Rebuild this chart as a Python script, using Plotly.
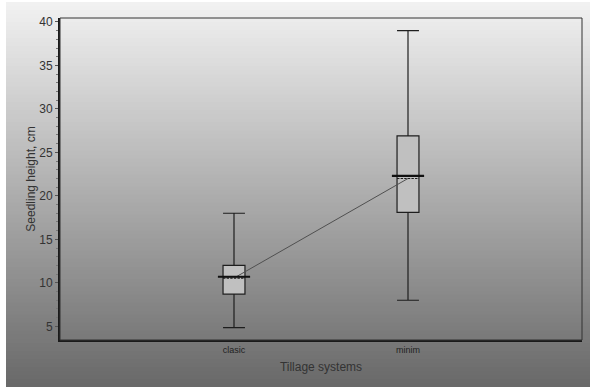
import plotly.graph_objects as go

categories = ["clasic", "minim"]
lower_whisker = [4.85, 8.0]
q1 = [8.7, 18.1]
median = [10.7, 22.3]
mean = [10.55, 22.0]
q3 = [12.0, 26.9]
upper_whisker = [18.0, 39.0]

W, H = 590, 387
ml, mr, mt, mb = 60, 8, 18, 47
pw = W - ml - mr
ph = H - mt - mb
bg_left, bg_top = 6, 2  # light strip before the gradient starts

fig = go.Figure()

# gradient background as overlapping thin rectangles
n = 96
top = (242, 242, 242)
bot = (104, 104, 104)
span = H - bg_top
for i in range(n):
    y0px = bg_top + i * span / n
    y1px = min(H, bg_top + (i + 1) * span / n + 2)
    t = (i + 0.5) / n
    c = tuple(int(round(top[k] + (bot[k] - top[k]) * t)) for k in range(3))
    fig.add_shape(type="rect", xref="paper", yref="paper",
                  x0=-(ml - bg_left) / pw, x1=1 + mr / pw,
                  y0=1 + (mt - y1px) / ph, y1=1 + (mt - y0px) / ph,
                  fillcolor="rgb(%d,%d,%d)" % c, line_width=0, layer="below")

fig.add_trace(go.Box(
    x=categories, q1=q1, median=median, q3=q3,
    lowerfence=lower_whisker, upperfence=upper_whisker, mean=mean,
    boxmean=True, width=0.126, whiskerwidth=1,
    fillcolor="#c0c0c0", line=dict(color="#1e1e1e", width=1.2),
    boxpoints=False, showlegend=False, hoverinfo="skip"))

# mean connecting line
fig.add_trace(go.Scatter(x=categories, y=mean, mode="lines",
                         line=dict(color="#505050", width=1), showlegend=False,
                         hoverinfo="skip"))

# thicker median lines
fig.add_trace(go.Scatter(x=categories, y=median, mode="markers",
                         marker=dict(symbol="line-ew-open", size=23, color="#111111",
                                     line=dict(color="#111111", width=2.2)),
                         showlegend=False, hoverinfo="skip"))

# top / right frame
fig.add_shape(type="rect", xref="paper", yref="paper", x0=0, x1=1, y0=0, y1=1,
              line=dict(color="#333333", width=1))

fig.update_layout(
    width=W, height=H,
    margin=dict(l=ml, r=mr, t=mt, b=mb, autoexpand=False),
    paper_bgcolor="white", plot_bgcolor="rgba(0,0,0,0)",
    font=dict(family="Liberation Sans, Arial, sans-serif", color="#333333"),
)
fig.update_xaxes(range=[-1, 2], showgrid=False, zeroline=False,
                 showline=True, linecolor="#1a1a1a", linewidth=2,
                 ticks="", tickfont=dict(size=9, color="#222222"),
                 title=dict(text="Tillage systems", font=dict(size=12, color="#333333"),
                            standoff=9))
fig.update_yaxes(range=[3.43, 40.45], showgrid=False, zeroline=False,
                 showline=True, linecolor="#1a1a1a", linewidth=2,
                 tickmode="array", tickvals=[5, 10, 15, 20, 25, 30, 35, 40],
                 ticks="outside", ticklen=3, tickcolor="#555555",
                 tickfont=dict(size=12, color="#333333"),
                 minor=dict(ticks="outside", ticklen=2, dtick=1, tickcolor="#777777"),
                 title=dict(text="Seedling height, cm", font=dict(size=12, color="#333333"),
                            standoff=1))

fig.write_html("out.html", config={"displayModeBar": False},
               post_script="document.body.style.margin='0';document.body.style.overflow='hidden';")
